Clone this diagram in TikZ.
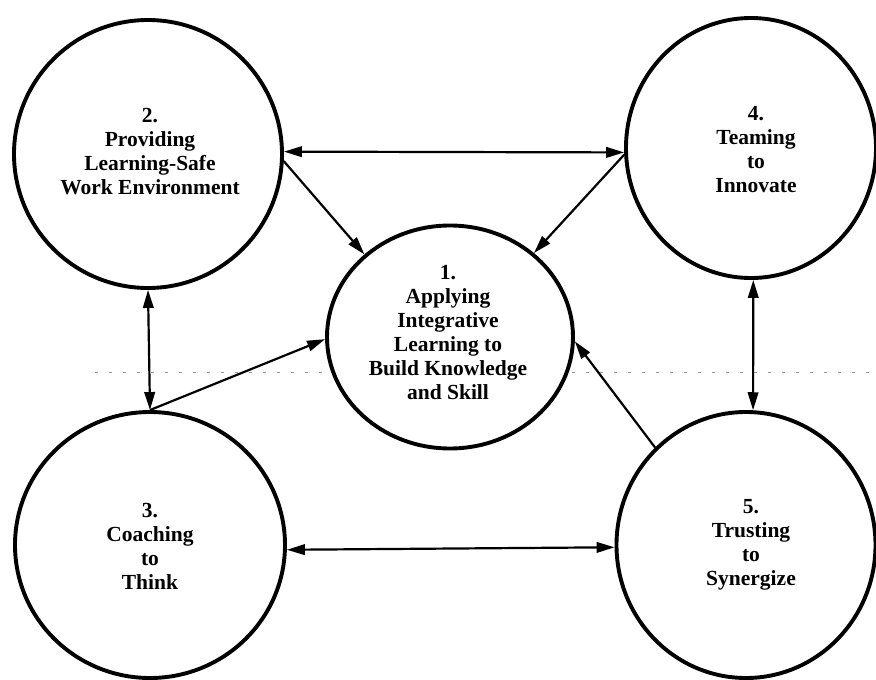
\documentclass[tikz,border=0pt]{standalone}
\usepackage{fontspec}
\setmainfont{Liberation Serif}
\usetikzlibrary{arrows.meta,shapes.geometric}
\begin{document}
\begin{tikzpicture}[x=1pt,y=-1pt,
  ring/.style={draw, ellipse, line width=3.9pt, inner sep=0pt},
  caption/.style={align=center, inner sep=0pt,
    font=\fontsize{21.5}{24}\selectfont\bfseries},
  link/.style={line width=2.2pt, -{Triangle[length=18pt,width=10.5pt]}},
  duplex/.style={line width=2.2pt, {Triangle[length=18pt,width=10.5pt]}-{Triangle[length=18pt,width=10.5pt]}},
  faint/.style={draw=black!40, line width=0.6pt, dash pattern=on 3pt off 11pt}]
\useasboundingbox (0,0) rectangle (876,680);
\clip (0,0) rectangle (876,680);

% faint guide line across the middle
\draw[faint] (95,372) -- (330,372);
\draw[faint] (572,372) -- (876,372);

% the five practices
\node[ring, minimum width=246pt, minimum height=223pt] (c1) at (450,337) {};
\node[ring, minimum width=268pt, minimum height=268pt] (c2) at (148,154) {};
\node[ring, minimum width=250pt, minimum height=260pt] (c4) at (751,148) {};
\node[ring, minimum width=270pt, minimum height=266pt] (c3) at (150,545) {};
\node[ring, minimum width=259pt, minimum height=266pt] (c5) at (746,545) {};

% their titles
\node[caption] (t1) at (448,333)
  {1.\\Applying\\Integrative\\Learning to\\Build Knowledge\\and Skill};
\node[caption] (t2) at (150,152)
  {2.\\Providing\\Learning-Safe\\Work Environment};
\node[caption] (t4) at (756,150)
  {4.\\Teaming\\to\\Innovate};
\node[caption] (t3) at (150,546)
  {3.\\Coaching\\to\\Think};
\node[caption] (t5) at (751,545)
  {5.\\Trusting\\to\\Synergize};

% links between practices
\draw[duplex] (c2.1) -- (c4.182);
\draw[link] (c2.-3) -- (c1.136);
\draw[link] (c4.183) -- (c1.45);
\draw[duplex] (c2.south) -- (c3.north);
\draw[link] (c3.north) -- (c1.181);
\draw[duplex] (c4.-89) -- (c5.87);
\draw[link] (c5.133) -- (c1.-2);
\draw[duplex] (c3.-2) -- (c5.181);
\end{tikzpicture}
\end{document}
